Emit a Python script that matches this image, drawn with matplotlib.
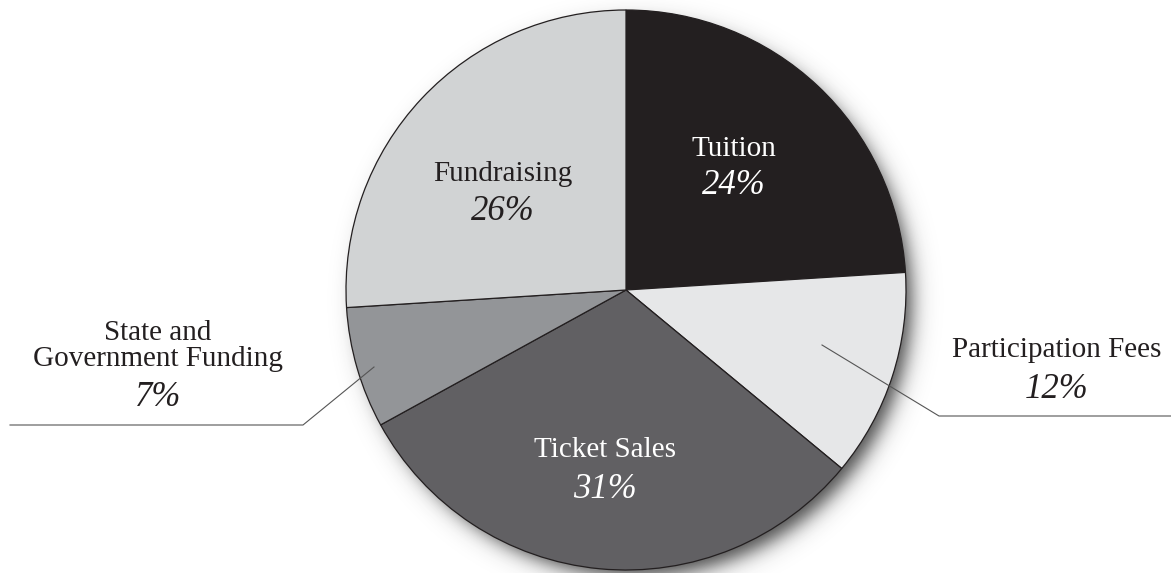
import matplotlib
matplotlib.use("Agg")
import matplotlib.pyplot as plt
import numpy as np

# data
labels = ["Tuition", "Participation Fees", "Ticket Sales",
          "State and\nGovernment Funding", "Fundraising"]
shares = [24, 12, 31, 7, 26]
colors = ["#231f20", "#e6e7e8", "#616063", "#939598", "#d1d3d4"]
text_colors = ["white", "#231f20", "white", "#231f20", "#231f20"]

W, H = 1171, 573
cx, cy, r = 626, H - 290, 280

fig = plt.figure(figsize=(W / 100, H / 100), dpi=100)
ax = fig.add_axes([0, 0, 1, 1])

# soft drop shadow towards lower right
yy, xx = np.mgrid[0:H, 0:W]
d = np.hypot(xx - (cx + 9), (H - yy) - (cy - 10))
alpha = 0.85 * 0.5 * (1 - np.tanh((d - r + 4) / 12.0))
shadow = np.zeros((H, W, 4))
shadow[..., :3] = 0.15
shadow[..., 3] = alpha
ax.imshow(shadow, extent=(0, W, 0, H), origin="upper", zorder=0,
          interpolation="bilinear")

wedges, _ = ax.pie(shares, colors=colors, startangle=90, counterclock=False,
                   center=(cx, cy), radius=r, frame=True,
                   wedgeprops=dict(edgecolor="#231f20", linewidth=0.9))
ax.set_xlim(0, W)
ax.set_ylim(0, H)
ax.set_aspect("equal")
ax.axis("off")

font = ["Liberation Serif", "DejaVu Serif"]
name_size = 21
pct_size = 25

# label centres in pixels, y measured from top
positions = [(734, 149), (1057, 350), (605, 450), (158, 346), (503, 174)]
pct_pos = [(734, 186), (1057, 390), (605, 489), (158, 397), (503, 211)]
for lab, s, tc, (x, y), (px, py) in zip(labels, shares, text_colors,
                                          positions, pct_pos):
    ax.text(x, H - y, lab, ha="center", va="center", fontsize=name_size,
            color=tc, family=font, linespacing=1.05)
    ax.text(px, H - py, f"{s}%", ha="center", va="center", fontsize=pct_size,
            color=tc, family=font, style="italic")

# leader lines
ax.plot([822, 939, 1171], [H - 345, H - 416, H - 416], color="#555555",
        lw=0.8, zorder=5)
ax.plot([374, 303, 10], [H - 367, H - 425, H - 425], color="#555555",
        lw=0.8, zorder=5)

fig.savefig("out.png", dpi=100, facecolor="white")
